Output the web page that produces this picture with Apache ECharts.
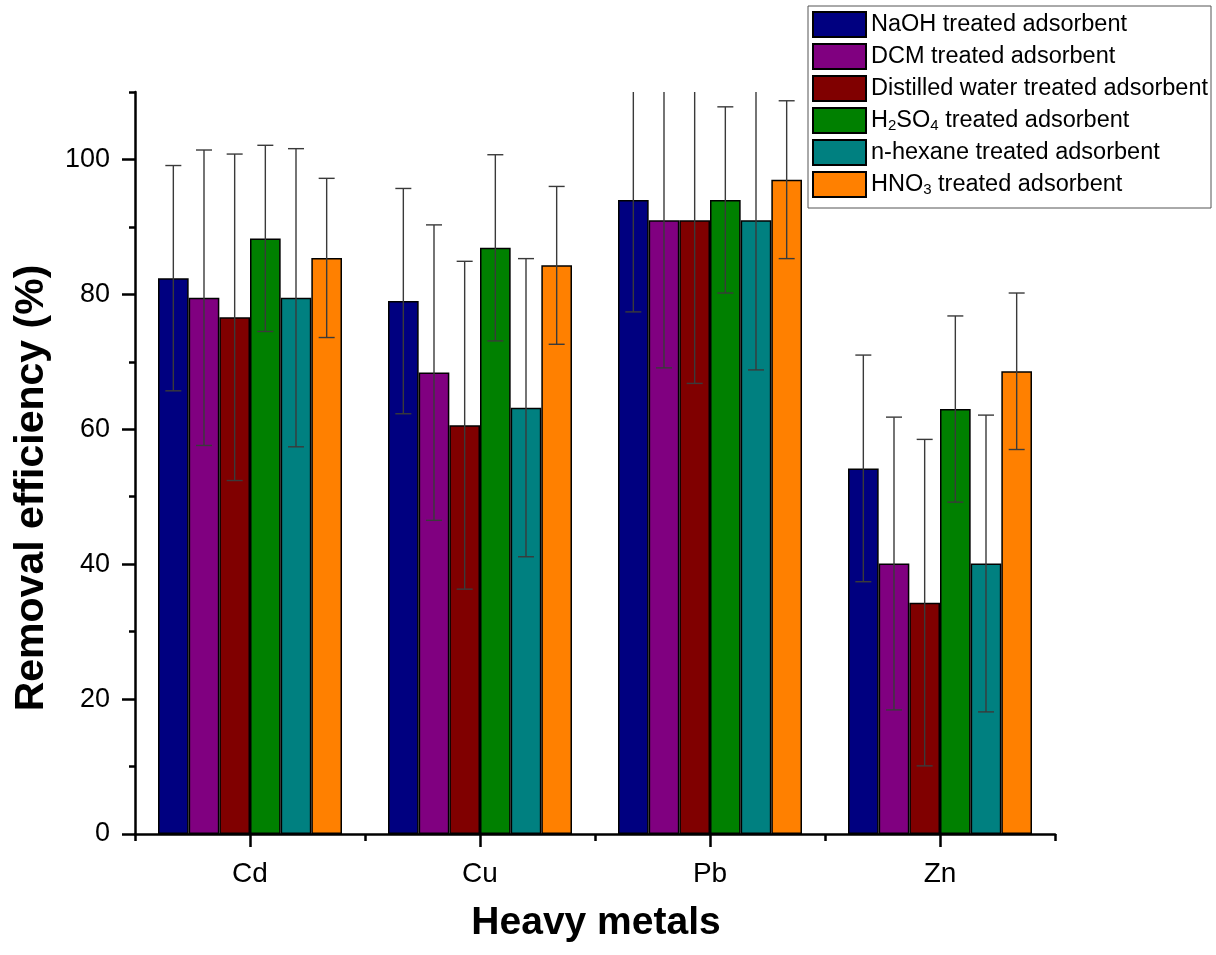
<!DOCTYPE html>
<html>
<head>
<meta charset="utf-8">
<script src="https://cdn.jsdelivr.net/npm/echarts@6/dist/echarts.min.js"></script>
<style>
html,body{margin:0;padding:0;background:#fff;}
#chart{width:1216px;height:955px;}
</style>
</head>
<body>
<div id="chart"></div>
<script>
const categories = ['Cd', 'Cu', 'Pb', 'Zn'];
const seriesNames = [
  'NaOH treated adsorbent',
  'DCM treated adsorbent',
  'Distilled water treated adsorbent',
  'H2SO4 treated adsorbent',
  'n-hexane treated adsorbent',
  'HNO3 treated adsorbent'
];
const naoh = [82.4, 79.0, 94.0, 54.2];
const naohErr = [16.7, 16.7, 16.6, 16.8];
const dcm = [79.5, 68.4, 91.0, 40.1];
const dcmErr = [21.9, 21.9, 21.9, 21.7];
const dw = [76.6, 60.6, 91.0, 34.3];
const dwErr = [24.2, 24.3, 24.2, 24.2];
const h2so4 = [88.3, 86.9, 94.0, 63.0];
const h2so4Err = [13.8, 13.8, 13.8, 13.8];
const hexane = [79.5, 63.2, 91.0, 40.1];
const hexaneErr = [22.1, 22.1, 22.2, 22.0];
const hno3 = [85.4, 84.3, 97.0, 68.6];
const hno3Err = [11.8, 11.7, 11.7, 11.6];
const yMajorTicks = [0, 20, 40, 60, 80, 100];
const yMinorTicks = [10, 30, 50, 70, 90, 110];

const colors = ['#000080', '#800080', '#800000', '#008000', '#008080', '#FF8000'];
const values = [naoh, dcm, dw, h2so4, hexane, hno3];
const errors = [naohErr, dcmErr, dwErr, h2so4Err, hexaneErr, hno3Err];
const FONT = '"Liberation Sans", Arial, sans-serif';
const nBars = values.length;
const catGap = 0.2;

const barSeries = values.map((v, i) => ({
  type: 'bar',
  name: seriesNames[i],
  data: v,
  xAxisIndex: 0,
  yAxisIndex: 0,
  barGap: '0%',
  barCategoryGap: '20%',
  itemStyle: { color: colors[i], borderColor: '#000', borderWidth: 1.5 },
  emphasis: { disabled: true },
  z: 2
}));

const errSeries = values.map((v, si) => ({
  type: 'custom',
  name: seriesNames[si] + ' error',
  xAxisIndex: 0,
  yAxisIndex: 0,
  clip: true,
  z: 5,
  silent: true,
  data: v.map((val, ci) => [ci, val, errors[si][ci]]),
  renderItem: function (params, api) {
    const ci = api.value(0), val = api.value(1), e = api.value(2);
    const c = api.coord([ci, val]);
    const bw = api.size([1, 0])[0] * (1 - catGap) / nBars;
    const x = c[0] + (si - (nBars - 1) / 2) * bw;
    const top = api.coord([ci, val + e])[1];
    const bot = api.coord([ci, val - e])[1];
    const hw = 8;
    const st = { stroke: '#3a3a3a', lineWidth: 1.4 };
    return {
      type: 'group',
      children: [
        { type: 'line', shape: { x1: x, y1: top, x2: x, y2: bot }, style: st },
        { type: 'line', shape: { x1: x - hw, y1: top, x2: x + hw, y2: top }, style: st },
        { type: 'line', shape: { x1: x - hw, y1: bot, x2: x + hw, y2: bot }, style: st }
      ]
    };
  }
}));

function legendFmt(name) {
  if (name.indexOf('H2SO4') === 0) {
    return '{a|H}{s|2}{a|SO}{s|4}{a| treated adsorbent}';
  }
  if (name.indexOf('HNO3') === 0) {
    return '{a|HNO}{s|3}{a| treated adsorbent}';
  }
  return '{a|' + name + '}';
}

const chart = echarts.init(document.getElementById('chart'), null, { renderer: 'canvas' });
chart.setOption({
  backgroundColor: '#fff',
  animation: false,
  grid: { left: 135, right: 161, top: 92, bottom: 121, containLabel: false },
  legend: {
    data: seriesNames,
    icon: 'rect',
    left: 808,
    top: 6,
    orient: 'vertical',
    itemWidth: 53,
    itemHeight: 25,
    itemGap: 5,
    padding: [5, 3, 10, 4],
    borderColor: '#555',
    borderWidth: 1,
    selectedMode: false,
    formatter: legendFmt,
    textStyle: {
      color: '#000',
      fontFamily: FONT,
      rich: {
        a: { fontSize: 23.5, lineHeight: 25, fontFamily: FONT, color: '#000' },
        s: { fontSize: 15, lineHeight: 6, verticalAlign: 'bottom', fontFamily: FONT, color: '#000' }
      }
    }
  },
  xAxis: [
    {
      type: 'category',
      data: categories,
      position: 'bottom',
      axisLine: { show: true, lineStyle: { color: '#000', width: 2.5 } },
      axisTick: { show: true, alignWithLabel: true, length: 13, lineStyle: { color: '#000', width: 2.5 } },
      axisLabel: { show: true, fontSize: 28, fontFamily: FONT, color: '#000', margin: 26 },
      splitLine: { show: false }
    },
    {
      type: 'category',
      data: categories,
      position: 'bottom',
      axisLine: { show: false },
      axisTick: { show: true, length: 7, lineStyle: { color: '#000', width: 2.5 } },
      axisLabel: { show: false },
      splitLine: { show: false }
    }
  ],
  yAxis: [
    {
      type: 'value',
      min: 0,
      max: 110,
      position: 'left',
      axisLine: { show: true, lineStyle: { color: '#000', width: 2.5 } },
      axisTick: { show: true, length: 13, customValues: yMajorTicks, lineStyle: { color: '#000', width: 2.5 } },
      axisLabel: { show: true, customValues: yMajorTicks, fontSize: 27, fontFamily: FONT, color: '#000', margin: 25 },
      splitLine: { show: false }
    },
    {
      type: 'value',
      min: 0,
      max: 110,
      position: 'left',
      axisLine: { show: false },
      axisTick: { show: true, length: 6, customValues: yMinorTicks, lineStyle: { color: '#000', width: 2.5 } },
      axisLabel: { show: false },
      splitLine: { show: false }
    }
  ],
  graphic: [
    {
      type: 'text',
      x: 32,
      y: 488,
      rotation: Math.PI / 2,
      style: {
        text: 'Removal efficiency (%)',
        fontSize: 41,
        fontWeight: 'bold',
        fontFamily: FONT,
        fill: '#000',
        textAlign: 'center',
        textVerticalAlign: 'middle',
        align: 'center',
        verticalAlign: 'middle'
      }
    },
    {
      type: 'text',
      x: 596,
      y: 923,
      style: {
        text: 'Heavy metals',
        fontSize: 39,
        fontWeight: 'bold',
        fontFamily: FONT,
        fill: '#000',
        textAlign: 'center',
        textVerticalAlign: 'middle',
        align: 'center',
        verticalAlign: 'middle'
      }
    }
  ],
  series: barSeries.concat(errSeries)
});
</script>
</body>
</html>
